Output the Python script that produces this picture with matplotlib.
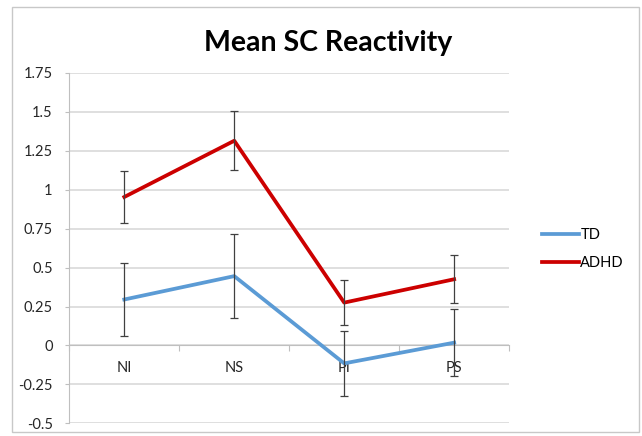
import matplotlib
matplotlib.use('Agg')
import matplotlib.pyplot as plt
from matplotlib.patches import Rectangle
import numpy as np

plt.rcParams['font.family'] = ['Lato', 'DejaVu Sans']

# Daten
kategorien = ['NI', 'NS', 'PI', 'PS']
td_werte = [0.295, 0.445, -0.115, 0.018]
td_fehler = [0.236, 0.270, 0.207, 0.215]
adhd_werte = [0.953, 1.314, 0.275, 0.425]
adhd_fehler = [0.165, 0.190, 0.146, 0.153]
y_ticks = [-0.5, -0.25, 0, 0.25, 0.5, 0.75, 1, 1.25, 1.5, 1.75]
y_labels = ['-0.5', '-0.25', '0', '0.25', '0.5', '0.75', '1', '1.25', '1.5', '1.75']

fig = plt.figure(figsize=(6.42, 4.36), dpi=100)
ax = fig.add_axes([0.108, 0.029, 0.685, 0.804])

x = np.arange(len(kategorien))

ax.errorbar(x, td_werte, yerr=td_fehler, fmt='none', ecolor='#404040',
            elinewidth=0.9, capsize=3, capthick=0.9, zorder=4)
ax.errorbar(x, adhd_werte, yerr=adhd_fehler, fmt='none', ecolor='#404040',
            elinewidth=0.9, capsize=3, capthick=0.9, zorder=4)
ax.plot(x, td_werte, color='#5B9BD5', linewidth=2.7, label='TD', zorder=3)
ax.plot(x, adhd_werte, color='#CC0000', linewidth=2.7, label='ADHD', zorder=3)

ax.set_xlim(-0.5, len(kategorien) - 0.5)
ax.set_ylim(-0.5, 1.75)
ax.set_yticks(y_ticks)
ax.set_yticklabels(y_labels)

# X-Achse bei 0, Striche zwischen den Kategorien
ax.spines['bottom'].set_position(('data', 0))
ax.spines['bottom'].set_color('#bfbfbf')
ax.spines['left'].set_color('#bfbfbf')
ax.spines['top'].set_visible(False)
ax.spines['right'].set_visible(False)
ax.set_xticks(np.arange(len(kategorien) + 1) - 0.5)
ax.set_xticklabels([])
ax.set_xticks(x, minor=True)
ax.set_xticklabels(kategorien, minor=True)
ax.tick_params(axis='x', which='major', direction='out', length=4, color='#bfbfbf')
ax.tick_params(axis='x', which='minor', length=0, pad=11, labelsize=10.5, labelcolor='#262626')
ax.tick_params(axis='y', length=3, color='#bfbfbf', pad=9, labelsize=10.5, labelcolor='#262626')

ax.set_axisbelow(True)
ax.yaxis.grid(True, color='#d9d9d9', linewidth=1.2)

fig.text(0.511, 0.902, 'Mean SC Reactivity', ha='center', va='center',
         fontsize=20.5, fontweight='bold', color='#000000')

ax.legend(loc='center left', bbox_to_anchor=(0.845, 0.429), bbox_transform=fig.transFigure,
          frameon=False, fontsize=10.5, handlelength=2.5, handletextpad=0.1,
          labelspacing=1.0, borderpad=0, borderaxespad=0)

# Rahmen um das Diagramm
fig.patches.append(Rectangle((12 / 642, 1 - 432 / 436), 627 / 642, 425 / 436,
                             transform=fig.transFigure, fill=False,
                             edgecolor='#c8c8c8', linewidth=1.0))

fig.savefig('out.png', dpi=100, facecolor='white')
plt.close(fig)
